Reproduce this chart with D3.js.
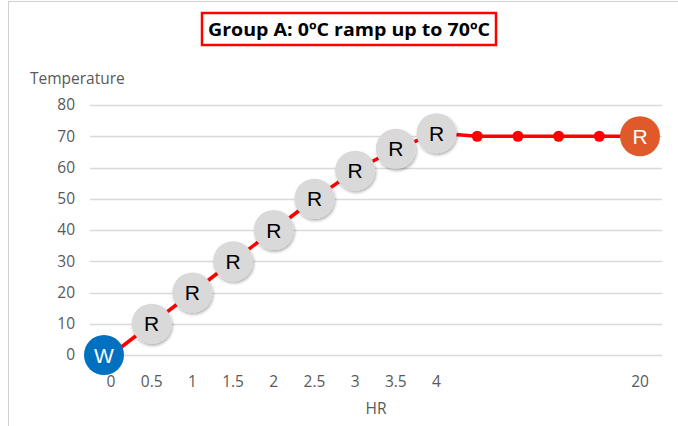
<!DOCTYPE html>
<html>
<head>
<meta charset="utf-8">
<script src="https://cdn.jsdelivr.net/npm/d3@7"></script>
<style>
  body { margin: 0; background: #fff; }
  text { font-family: "Open Sans", sans-serif; }
</style>
</head>
<body>
<div id="chart"></div>
<script>
const hours = ['0', '0.5', '1', '1.5', '2', '2.5', '3', '3.5', '4', '', '', '', '', '20'];
const temps = [0, 10, 20, 30, 40, 50, 59, 66, 71, 70, 70, 70, 70, 70];
const markers = ['W', 'R', 'R', 'R', 'R', 'R', 'R', 'R', 'R', 'dot', 'dot', 'dot', 'dot', 'end'];
const yTicks = [0, 10, 20, 30, 40, 50, 60, 70, 80];

const width = 678, height = 426;
const svg = d3.select('#chart')
    .append('svg')
    .attr('width', width)
    .attr('height', height);

const defs = svg.append('defs');
defs.append('filter')
    .attr('id', 'shadow')
    .attr('x', '-30%').attr('y', '-30%')
    .attr('width', '160%').attr('height', '160%')
    .append('feDropShadow')
    .attr('dx', 1).attr('dy', 2)
    .attr('stdDeviation', 1.6)
    .attr('flood-color', '#000')
    .attr('flood-opacity', 0.3);

// chart frame
svg.append('rect')
    .attr('x', 8.5).attr('y', 1.5)
    .attr('width', 700).attr('height', 440)
    .attr('fill', 'none')
    .attr('stroke', '#d0d0d0');

const x = d3.scalePoint()
    .domain(d3.range(hours.length))
    .range([111, 640]);
const y = d3.scaleLinear()
    .domain([0, 80])
    .range([355, 105]);

// gridlines
svg.append('g')
    .selectAll('line')
    .data(yTicks)
    .enter().append('line')
    .attr('x1', 90).attr('x2', 662)
    .attr('y1', d => Math.round(y(d)) + 0.5)
    .attr('y2', d => Math.round(y(d)) + 0.5)
    .attr('stroke', '#d9d9d9')
    .attr('stroke-width', 1.3);

// y tick labels
svg.append('g')
    .selectAll('text')
    .data(yTicks)
    .enter().append('text')
    .attr('x', 75)
    .attr('y', d => y(d))
    .attr('dy', '0.35em')
    .attr('text-anchor', 'end')
    .attr('font-size', 15.5)
    .attr('fill', '#595959')
    .text(d => d);

// x tick labels
svg.append('g')
    .selectAll('text')
    .data(hours)
    .enter().append('text')
    .attr('x', (d, i) => x(i))
    .attr('y', 387)
    .attr('text-anchor', 'middle')
    .attr('font-size', 15.5)
    .attr('fill', '#595959')
    .text(d => d);

// axis titles
svg.append('text')
    .attr('x', 30).attr('y', 84)
    .attr('font-size', 15.5)
    .attr('fill', '#595959')
    .text('Temperature');
svg.append('text')
    .attr('x', 376).attr('y', 414)
    .attr('text-anchor', 'middle')
    .attr('font-size', 15.5)
    .attr('fill', '#595959')
    .text('HR');

// title box
svg.append('rect')
    .attr('x', 202).attr('y', 13)
    .attr('width', 294).attr('height', 32)
    .attr('fill', '#fff')
    .attr('stroke', '#ff0000')
    .attr('stroke-width', 2.5);
svg.append('text')
    .attr('x', 208).attr('y', 36)
    .attr('font-size', 18.5)
    .attr('font-weight', 'bold')
    .attr('textLength', 282)
    .attr('lengthAdjust', 'spacingAndGlyphs')
    .attr('fill', '#000')
    .text('Group A: 0ºC ramp up to 70ºC');

// series line
const line = d3.line()
    .x((d, i) => x(i))
    .y(d => y(d));
svg.append('path')
    .datum(temps)
    .attr('d', line)
    .attr('fill', 'none')
    .attr('stroke', '#ff0000')
    .attr('stroke-width', 3.5);

const pts = temps.map((t, i) => ({ i, t, m: markers[i] }));

// small dots
svg.append('g')
    .selectAll('circle')
    .data(pts.filter(d => d.m === 'dot'))
    .enter().append('circle')
    .attr('cx', d => x(d.i))
    .attr('cy', d => y(d.t))
    .attr('r', 5.5)
    .attr('fill', '#ff0000');

// big markers
const fills = { W: '#0070c0', R: '#d9d9d9', end: '#e0592a' };
const textFill = { W: '#fff', R: '#000', end: '#fff' };
const big = svg.append('g')
    .selectAll('g')
    .data(pts.filter(d => d.m !== 'dot'))
    .enter().append('g')
    .attr('transform', d => `translate(${x(d.i) + (d.m === 'W' ? -7 : 0)},${y(d.t)})`);
big.append('circle')
    .attr('r', 20)
    .attr('fill', d => fills[d.m])
    .attr('filter', d => d.m === 'R' ? 'url(#shadow)' : null);
big.append('text')
    .attr('text-anchor', 'middle')
    .attr('dy', '0.36em')
    .style('font-family', '"Liberation Sans", Arial, sans-serif')
    .attr('font-size', 21)
    .attr('fill', d => textFill[d.m])
    .text(d => d.m === 'end' ? 'R' : d.m);
</script>
</body>
</html>
